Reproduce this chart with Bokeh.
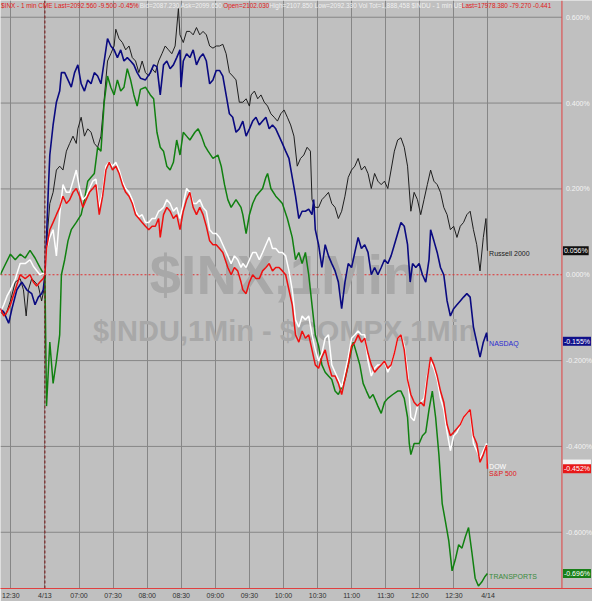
from bokeh.plotting import figure
from bokeh.models import Range1d, FixedTicker, Span, Label
from bokeh.core.properties import value
from bokeh.embed import file_html
from bokeh.resources import INLINE

FONT = "Liberation Sans"

# ---- axis ticks / labels (minutes from 4/13 06:30 open) ----
time_ticks = [-30, 0, 30, 60, 90, 120, 150, 180, 210, 240, 270, 300, 330, 360, 390]
time_labels = ["12:30", "4/13", "07:00", "07:30", "08:00", "08:30", "09:00", "09:30",
               "10:00", "10:30", "11:00", "11:30", "12:00", "12:30", "4/14"]
pct_ticks = [-0.6, -0.4, -0.2, 0.0, 0.2, 0.4, 0.6]

# ---- Russell 2000 (% change) ----
rut_t = [-39.2, -34.8, -30.4, -26.1, -21.8, -18.9, -16.5, -14.5, -11.6, -8.7,
         -5.8, -2.9, -0.9, 0.0, 1.4, 4.3, 7.2, 10.1, 13.0, 15.9,
         18.9, 21.8, 24.7, 27.6, 29.0, 31.9, 34.8, 37.7, 40.6, 43.5,
         46.4, 49.3, 52.2, 55.1, 58.0, 60.9, 62.4, 65.3, 68.2, 71.1,
         74.0, 76.9, 79.8, 82.7, 85.6, 88.5, 91.4, 94.3, 97.2, 100.1,
         103.0, 105.9, 108.8, 111.7, 114.6, 117.5, 118.9, 121.8, 124.7, 127.6,
         130.5, 133.4, 136.3, 139.2, 142.1, 145.0, 147.9, 150.8, 153.7, 156.6,
         159.5, 162.4, 165.3, 168.2, 171.1,
         174.2, 177.1, 180.0, 181.5, 184.4, 187.3, 190.2, 193.1, 196.0, 198.9,
         201.8, 204.7, 207.6, 210.5, 213.4, 216.3, 219.2, 222.1, 225.0, 227.9,
         230.8, 233.7, 235.1, 238.0, 240.9, 243.8, 246.7, 249.6, 252.5, 255.4,
         258.3, 261.2, 264.1, 267.0, 269.9, 272.8, 275.7, 278.6, 281.5, 284.4,
         287.3, 290.2, 293.1, 296.0, 298.9, 301.8, 304.7, 307.6, 310.5, 313.4,
         316.3, 319.2, 322.1, 325.0, 327.9, 330.8, 333.7, 336.6, 339.5, 342.4,
         345.3, 348.2, 351.1, 354.0, 356.9, 359.8, 362.7, 365.6, 368.5, 371.4,
         374.3, 377.2, 380.1, 383.0, 385.9, 388.2, 389.5]
rut_v = [-0.087, -0.096, -0.061, -0.017, -0.009, -0.035, -0.096, -0.035, -0.009, -0.017,
         -0.026, -0.061, -0.035, 0.000, 0.070, 0.166, 0.192, 0.244, 0.253, 0.244,
         0.288, 0.306, 0.323, 0.306, 0.340, 0.367, 0.323, 0.340, 0.332, 0.306,
         0.297, 0.323, 0.410, 0.498, 0.515, 0.533, 0.572, 0.550, 0.541, 0.524,
         0.533, 0.506, 0.498, 0.471, 0.498, 0.471, 0.463, 0.480, 0.471, 0.498,
         0.515, 0.533, 0.524, 0.515, 0.533, 0.620, 0.559, 0.541, 0.567, 0.567,
         0.559, 0.576, 0.559, 0.567, 0.559, 0.533, 0.528, 0.533, 0.533, 0.537,
         0.515, 0.471, 0.463, 0.454, 0.402,
         0.402, 0.410, 0.393, 0.419, 0.428, 0.410, 0.419, 0.402, 0.393, 0.375,
         0.367, 0.358, 0.375, 0.384, 0.367, 0.349, 0.323, 0.253, 0.271, 0.279,
         0.297, 0.288, 0.175, 0.157, 0.157, 0.175, 0.183, 0.192, 0.166, 0.157,
         0.131, 0.148, 0.183, 0.227, 0.244, 0.253, 0.271, 0.244, 0.253, 0.236,
         0.201, 0.236, 0.218, 0.210, 0.218, 0.201, 0.244, 0.288, 0.314, 0.319,
         0.297, 0.253, 0.148, 0.192, 0.175, 0.140, 0.175, 0.210, 0.244, 0.218,
         0.210, 0.192, 0.157, 0.140, 0.105, 0.113, 0.087, 0.113, 0.122, 0.140,
         0.148, 0.105, 0.070, 0.009, 0.087, 0.131, 0.056]

# ---- NASDAQ ----
ndq_t = [-39.2, -36.2, -31.9, -29.0, -24.7, -20.3, -16.0, -11.6, -8.7, -5.8,
         -2.9, -1.5, 0.0, 1.4, 2.9, 4.3, 7.2, 10.1, 13.0, 14.5,
         17.4, 20.3, 23.2, 26.1, 29.0, 31.9, 34.8, 37.7, 40.6, 43.5,
         46.4, 49.3, 52.2, 55.1, 58.0, 60.9, 63.8, 66.7, 69.6, 72.5,
         75.4, 78.3, 81.2, 84.1, 88.5, 92.8, 95.7, 98.6, 101.5, 104.4,
         107.3, 110.2, 113.1, 116.0, 118.9, 119.8, 121.8, 124.7, 127.6, 130.5,
         133.4, 136.3, 139.2, 142.1, 145.0, 147.9, 150.8, 153.7, 156.6, 159.5,
         162.4, 165.3, 168.2, 171.1,
         174.2, 177.1, 180.0, 182.9, 185.8, 188.7, 191.6, 194.5, 197.4, 200.3,
         203.2, 206.1, 209.0, 211.9, 214.8, 217.7, 220.6, 223.5, 226.4, 229.3,
         232.2, 235.1, 236.6, 238.0, 240.9, 243.8, 246.7, 249.6, 252.5, 255.4,
         258.3, 261.2, 264.1, 267.0, 269.9, 272.8, 275.7, 278.6, 281.5, 284.4,
         287.3, 290.2, 293.1, 296.0, 298.9, 301.8, 304.7, 307.6, 310.5, 313.4,
         316.3, 319.2, 321.5, 323.6, 326.5, 329.4, 332.3, 335.2, 338.1, 339.5,
         342.4, 345.3, 348.2, 351.1, 354.0, 356.9, 359.8, 362.7, 365.6, 368.5,
         371.4, 374.3, 377.2, 380.1, 383.0, 385.9, 388.8, 389.5]
ndq_v = [-0.079, -0.087, -0.113, -0.079, -0.035, -0.017, -0.035, -0.044, -0.070, -0.052,
         -0.044, -0.035, 0.000, 0.087, 0.192, 0.279, 0.349, 0.402, 0.428, 0.471,
         0.471, 0.454, 0.437, 0.471, 0.489, 0.445, 0.428, 0.454, 0.445, 0.471,
         0.463, 0.445, 0.498, 0.550, 0.533, 0.524, 0.506, 0.524, 0.498, 0.506,
         0.498, 0.489, 0.471, 0.458, 0.454, 0.471, 0.489, 0.485, 0.419, 0.489,
         0.498, 0.480, 0.489, 0.506, 0.524, 0.437, 0.498, 0.515, 0.506, 0.524,
         0.489, 0.506, 0.515, 0.498, 0.445, 0.454, 0.476, 0.476, 0.463, 0.419,
         0.375, 0.367, 0.332, 0.340,
         0.358, 0.323, 0.340, 0.358, 0.367, 0.349, 0.358, 0.367, 0.340, 0.349,
         0.340, 0.323, 0.306, 0.288, 0.271, 0.227, 0.183, 0.131, 0.148, 0.148,
         0.153, 0.140, 0.175, 0.105, 0.070, 0.017, 0.070, 0.044, 0.026, 0.009,
         -0.017, -0.079, -0.017, 0.026, 0.017, 0.052, 0.087, 0.061, 0.070, 0.052,
         0.000, 0.017, 0.000, 0.017, 0.035, 0.026, 0.044, 0.070, 0.096, 0.122,
         0.113, 0.070, -0.017, 0.026, 0.017, 0.026, 0.000, -0.017, 0.035, 0.105,
         0.079, 0.052, 0.017, 0.000, -0.061, -0.096, -0.079, -0.070, -0.061, -0.052,
         -0.044, -0.052, -0.122, -0.157, -0.192, -0.157, -0.135, -0.155]

# ---- Transports ----
trn_t = [-39.2, -36.2, -30.4, -26.1, -21.8, -17.4, -13.1, -8.7, -4.4, -1.5,
         0.0, 1.4, 4.3, 7.2, 10.1, 13.0, 14.5, 17.4, 20.3, 23.2,
         27.6, 31.9, 34.8, 37.7, 40.6, 43.5, 46.4, 49.3, 52.2, 55.1,
         58.0, 60.9, 63.8, 66.7, 69.6, 72.5, 75.4, 78.3, 81.2, 84.1,
         88.5, 92.8, 95.7, 98.6, 101.5, 104.4, 107.3, 110.2, 113.1, 116.0,
         118.9, 121.8, 124.7, 127.6, 132.0, 134.9, 137.8, 140.7, 143.6, 147.9,
         152.3, 155.2, 158.1, 161.0, 163.9, 168.2, 172.6,
         174.2, 177.1, 180.0, 182.9, 185.8, 188.7, 191.6, 194.5, 196.0, 198.9,
         203.2, 206.1, 209.0, 213.4, 217.7, 220.6, 223.5, 226.4, 229.3, 232.2,
         235.1, 238.0, 240.9, 243.8, 246.7, 249.6, 252.5, 255.4, 258.3, 261.2,
         264.1, 267.0, 271.4, 274.3, 277.2, 280.1, 283.0, 285.9, 288.8, 293.1,
         296.0, 298.9, 301.8, 306.2, 310.5, 313.4, 316.3, 319.2, 320.7, 322.1,
         325.0, 329.4, 332.3, 335.2, 338.1, 341.0, 343.9, 346.8, 349.7, 352.6,
         355.5, 358.4, 361.3, 364.2, 367.1, 370.0, 372.9, 375.8, 378.7, 381.6,
         384.5, 387.4, 389.5]
trn_v = [0.000, 0.017, 0.048, 0.035, 0.048, 0.039, 0.057, 0.039, 0.017, 0.004,
         0.000, -0.306, -0.157, -0.253, -0.201, -0.140, 0.000, 0.035, 0.079, 0.105,
         0.122, 0.140, 0.175, 0.218, 0.227, 0.236, 0.297, 0.288, 0.402, 0.463,
         0.437, 0.419, 0.454, 0.428, 0.437, 0.480, 0.454, 0.419, 0.393, 0.432,
         0.437, 0.419, 0.410, 0.332, 0.297, 0.288, 0.253, 0.244, 0.262, 0.314,
         0.279, 0.332, 0.323, 0.314, 0.332, 0.340, 0.323, 0.301, 0.288, 0.271,
         0.279, 0.253, 0.210, 0.175, 0.157, 0.175, 0.157,
         0.140, 0.096, 0.140, 0.166, 0.183, 0.192, 0.201, 0.227, 0.236, 0.201,
         0.183, 0.175, 0.166, 0.131, 0.087, 0.035, 0.052, 0.026, 0.052, 0.000,
         -0.070, -0.140, -0.166, -0.210, -0.227, -0.236, -0.244, -0.271, -0.279, -0.262,
         -0.244, -0.210, -0.157, -0.183, -0.210, -0.253, -0.271, -0.288, -0.279, -0.306,
         -0.323, -0.297, -0.288, -0.279, -0.271, -0.271, -0.288, -0.332, -0.393, -0.419,
         -0.393, -0.393, -0.375, -0.367, -0.314, -0.271, -0.332, -0.419, -0.533, -0.576,
         -0.620, -0.690, -0.663, -0.629, -0.637, -0.611, -0.589, -0.646, -0.707, -0.725,
         -0.716, -0.703, -0.696]

# ---- shared time base for DOW and S&P 500 ----
idx_t = [-39.2, -36.2, -33.4, -30.4, -26.1, -21.8, -17.4, -13.1, -10.2, -7.3,
         -4.4, -1.5, 0.0, 1.4, 4.3, 7.2, 10.1, 13.0, 15.9, 18.9,
         21.8, 24.7, 27.6, 30.5, 33.4, 36.3, 39.2, 42.1, 44.9, 47.8,
         50.8, 53.7, 56.6, 59.5, 62.4, 65.3, 68.2, 71.1, 74.0, 76.9,
         79.8, 82.7, 85.6, 88.5, 91.4, 94.3, 97.2, 100.1, 101.5, 104.4,
         107.3, 110.2, 113.1, 116.0, 118.9, 121.8, 124.7, 127.6, 130.5, 133.4,
         136.3, 139.2, 142.1, 145.0, 147.9, 150.8, 153.7, 156.6, 161.0, 163.9,
         166.8, 169.7, 172.6,
         174.2, 177.1, 180.0, 182.9, 185.8, 188.7, 191.6, 194.5, 197.4, 200.3,
         203.2, 206.1, 209.0, 211.9, 214.8, 217.7, 220.6, 223.5, 226.4, 229.3,
         232.2, 235.1, 238.0, 240.9, 243.8, 246.7, 249.6, 252.5, 255.4, 258.3,
         261.2, 264.1, 267.0, 269.9, 272.8, 275.7, 278.6, 281.5, 284.4, 287.3,
         290.2, 293.1, 296.0, 298.9, 301.8, 304.7, 307.6, 310.5, 313.4, 316.3,
         319.2, 322.1, 325.0, 327.9, 330.8, 333.7, 336.6, 339.5, 342.4, 345.3,
         348.2, 351.1, 354.0, 356.9, 359.8, 362.7, 365.6, 368.5, 371.4, 374.3,
         377.2, 380.1, 383.0, 385.9, 388.8, 389.5]

# ---- S&P 500 ($INX, red) ----
spx_v = [-0.079, -0.096, -0.087, -0.070, -0.035, 0.000, -0.009, 0.000, -0.017, -0.026,
         -0.017, -0.009, 0.000, 0.061, 0.105, 0.122, 0.140, 0.157, 0.183, 0.166,
         0.175, 0.192, 0.201, 0.183, 0.157, 0.175, 0.192, 0.201, 0.210, 0.140,
         0.183, 0.244, 0.262, 0.244, 0.253, 0.236, 0.210, 0.192, 0.183, 0.166,
         0.140, 0.131, 0.122, 0.113, 0.105, 0.113, 0.113, 0.131, 0.087, 0.140,
         0.157, 0.148, 0.131, 0.140, 0.105, 0.148, 0.175, 0.192, 0.157, 0.140,
         0.157, 0.140, 0.113, 0.079, 0.070, 0.070, 0.061, 0.052, 0.017, 0.000,
         0.017, 0.009, -0.017,
         -0.035, -0.044, -0.017, 0.000, -0.009, -0.009, 0.009, 0.017, 0.026, 0.009,
         0.017, 0.017, 0.009, 0.000, -0.035, -0.070, -0.140, -0.157, -0.131, -0.148,
         -0.140, -0.175, -0.210, -0.218, -0.192, -0.175, -0.210, -0.236, -0.236, -0.253,
         -0.279, -0.244, -0.210, -0.166, -0.157, -0.140, -0.157, -0.148, -0.183, -0.210,
         -0.227, -0.218, -0.210, -0.201, -0.218, -0.210, -0.183, -0.148, -0.140, -0.175,
         -0.244, -0.279, -0.297, -0.306, -0.297, -0.306, -0.244, -0.192, -0.210, -0.236,
         -0.271, -0.297, -0.349, -0.375, -0.367, -0.358, -0.349, -0.332, -0.323, -0.314,
         -0.375, -0.393, -0.437, -0.419, -0.397, -0.452]

# ---- DOW ($INDU, white) ----
dow_v = [-0.087, -0.070, -0.050, -0.035, -0.010, 0.026, 0.026, 0.035, 0.020, 0.010,
         0.000, 0.004, 0.000, 0.060, 0.087, 0.105, 0.044, 0.140, 0.210, 0.192,
         0.192, 0.218, 0.244, 0.201, 0.175, 0.183, 0.201, 0.218, 0.223, 0.157,
         0.192, 0.253, 0.262, 0.253, 0.262, 0.244, 0.218, 0.201, 0.192, 0.175,
         0.148, 0.135, 0.140, 0.122, 0.122, 0.131, 0.131, 0.148, 0.150, 0.157,
         0.175, 0.166, 0.148, 0.157, 0.131, 0.166, 0.201, 0.192, 0.166, 0.166,
         0.175, 0.157, 0.148, 0.105, 0.096, 0.096, 0.087, 0.070, 0.044, 0.026,
         0.044, 0.035, 0.017,
         0.026, 0.017, 0.035, 0.052, 0.052, 0.035, 0.052, 0.070, 0.087, 0.061,
         0.061, 0.052, 0.052, 0.044, 0.009, -0.035, -0.105, -0.122, -0.096, -0.105,
         -0.096, -0.140, -0.175, -0.201, -0.183, -0.148, -0.140, -0.210, -0.227, -0.244,
         -0.262, -0.227, -0.192, -0.148, -0.140, -0.131, -0.140, -0.140, -0.201, -0.236,
         -0.218, -0.210, -0.210, -0.201, -0.227, -0.210, -0.183, -0.148, -0.140, -0.166,
         -0.227, -0.332, -0.340, -0.306, -0.297, -0.288, -0.236, -0.201, -0.218, -0.244,
         -0.288, -0.314, -0.367, -0.410, -0.375, -0.367, -0.349, -0.332, -0.323, -0.314,
         -0.393, -0.410, -0.428, -0.410, -0.393, -0.441]

# ---- last values / names ----
names = ["Russell 2000", "NASDAQ", "DOW", "S&P 500", "TRANSPORTS"]
last_vals = [0.056, -0.155, -0.441, -0.452, -0.696]

header_parts = ["$INX - 1 min  CME  Last=2092.560  -9.500  -0.45%",
                "Bid=2087.230  Ask=2099.650",
                "Open=2102.030",
                "High=2107.850 Low=2092.330 Vol Tot=1,888,458 $INDU - 1 min US",
                "Last=17978.380  -79.270  -0.441"]

BG = "#c0c0c0"
RED_AX = "#e04040"
X_LEFT, X_END, X_RIGHT = -39.1, 455.1, 482.0
Y_LOW, Y_HIGH = -0.731, 0.639

p = figure(width=592, height=601, output_backend="svg", toolbar_location=None,
           x_range=Range1d(X_LEFT, X_RIGHT), y_range=Range1d(Y_LOW, Y_HIGH),
           x_axis_location="below", y_axis_location=None,
           min_border_left=0, min_border_top=0, min_border_right=0, min_border_bottom=0)
p.background_fill_color = BG
p.border_fill_color = BG
p.outline_line_color = None

# bottom time axis
xa = p.xaxis[0]
xa.ticker = FixedTicker(ticks=time_ticks)
xa.major_label_overrides = dict(zip(time_ticks, time_labels))
xa.axis_line_color = RED_AX
xa.axis_line_width = 1
xa.major_tick_line_color = None
xa.major_tick_out = 0
xa.major_tick_in = 0
xa.minor_tick_line_color = None
xa.minor_tick_out = 0
xa.major_label_text_font = FONT
xa.major_label_text_font_size = "7px"
xa.major_label_text_color = "#303030"
xa.major_label_standoff = 3

p.xgrid.grid_line_color = "#868686"
p.xgrid.grid_line_width = 1
p.ygrid.visible = False

# horizontal grid lines stop at the price-scale border
grid_vals = [t for t in pct_ticks if t != 0.0]
p.segment(x0=[X_LEFT] * len(grid_vals), y0=grid_vals, x1=[X_END] * len(grid_vals),
          y1=grid_vals, line_color="#868686", line_width=1)
# zero line
p.segment(x0=[X_LEFT], y0=[0.0], x1=[X_END], y1=[0.0], line_color="#e03030",
          line_dash="2 2", line_width=1)
# session open marker
p.add_layout(Span(location=0, dimension="height", line_color="#7a1010",
                  line_dash="3 2", line_width=1))
# price-scale border
p.add_layout(Span(location=X_END, dimension="height", line_color=RED_AX, line_width=1))

# percentage scale labels
pct_labels = ["%.3f%%" % t for t in pct_ticks]
p.text(x=[X_END] * len(pct_ticks), y=pct_ticks, text=pct_labels, x_offset=4,
       text_font=value(FONT), text_font_size="7px", text_color="#f4f4f4",
       text_align="left", text_baseline="middle")

# watermark
p.text(x=[210.0], y=[0.000], text=["$INX,1Min"], text_font=value(FONT),
       text_font_style="bold", text_font_size="56px", text_color="#a8a8a8",
       text_align="center", text_baseline="alphabetic")
p.text(x=[211.0], y=[-0.130], text=["$INDU,1Min - $COMPX,1Min"], text_font=value(FONT),
       text_font_style="bold", text_font_size="29px", text_color="#a8a8a8",
       text_align="center", text_baseline="alphabetic")

# series
p.line(rut_t, rut_v, line_color="#1e1e1e", line_width=1)
p.line(ndq_t, ndq_v, line_color="#0a0a80", line_width=1.6)
p.line(trn_t, trn_v, line_color="#108010", line_width=1.5)
p.line(idx_t, dow_v, line_color="#ffffff", line_width=1.5)
p.line(idx_t, spx_v, line_color="#ee1010", line_width=1.5)

# series name labels
name_colors = ["#202020", "#2a2ad0", "#ffffff", "#e01818", "#3a8a3a"]
name_y = [0.050, -0.161, -0.447, -0.462, -0.704]
for n, c, yv in zip(names, name_colors, name_y):
    p.add_layout(Label(x=391, y=yv, text=n, text_color=c, text_font=FONT,
                       text_font_size="7px", text_align="left", text_baseline="middle"))

# last-value tags on the price scale
tag_bg = ["#111111", "#10108a", "#f4f4f4", "#e81818", "#188018"]
tag_fg = ["#ffffff", "#ffffff", "#f4f4f4", "#ffffff", "#ffffff"]
for v, bg, fg in zip(last_vals, tag_bg, tag_fg):
    p.add_layout(Label(x=X_END, y=v, x_offset=1, text="%.3f%%" % v, text_color=fg,
                       text_font=FONT, text_font_size="7px", text_align="left",
                       text_baseline="middle", background_fill_color=bg,
                       padding=1))

# header
header_x = [-38.6, 83.5, 157.0, 197.5, 367.0]
header_c = ["#e01818", "#f0f0f0", "#e01818", "#f0f0f0", "#e01818"]
for hx, ht, hc in zip(header_x, header_parts, header_c):
    p.add_layout(Label(x=hx, y=Y_HIGH, y_offset=-1, text=ht, text_color=hc,
                       text_font=FONT, text_font_size="6.4px", text_align="left",
                       text_baseline="top"))

open("out.html", "w").write(file_html(p, INLINE))
